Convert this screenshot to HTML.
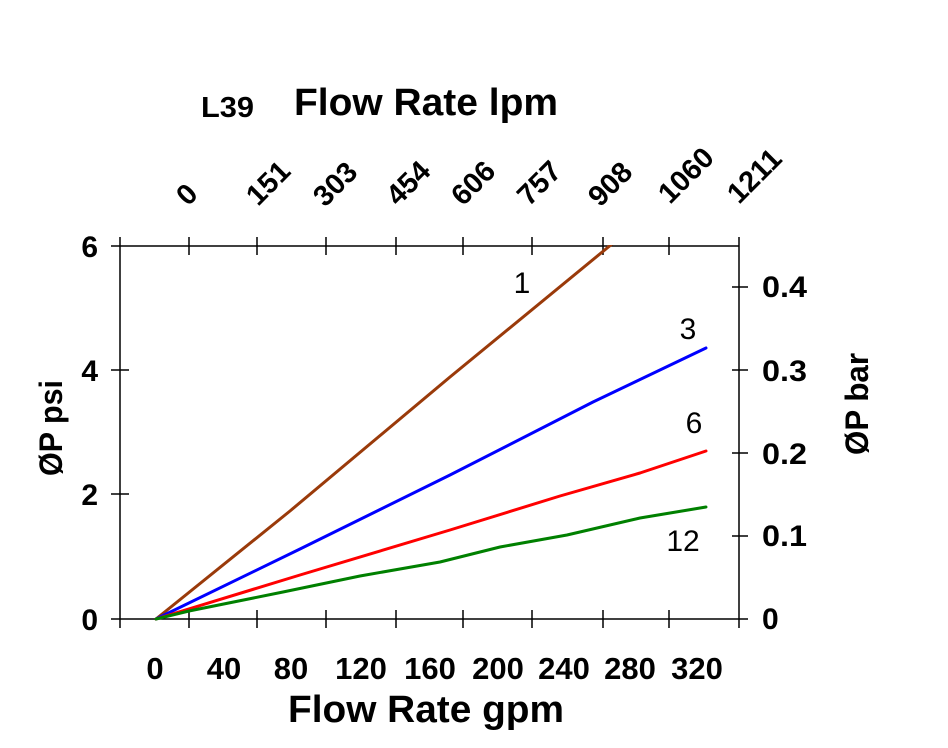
<!DOCTYPE html>
<html>
<head>
<meta charset="utf-8">
<style>
  html, body { margin: 0; padding: 0; background: #ffffff; }
  svg { display: block; }
  text { font-family: "Liberation Sans", Arial, sans-serif; fill: #000; }
  .b { font-weight: bold; }
</style>
</head>
<body>
<svg width="948" height="748" viewBox="0 0 948 748" xmlns="http://www.w3.org/2000/svg">
  <rect x="0" y="0" width="948" height="748" fill="#ffffff"/>

  <!-- Title / top axis title -->
  <text class="b" x="201" y="117" font-size="29" textLength="53" lengthAdjust="spacingAndGlyphs">L39</text>
  <text class="b" x="294" y="115" font-size="38" textLength="264" lengthAdjust="spacingAndGlyphs">Flow Rate lpm</text>

  <!-- Top rotated labels -->
  <g class="b" font-size="29" font-weight="bold">
    <text transform="translate(188,207) rotate(-45)">0</text>
    <text transform="translate(258,207) rotate(-45)">151</text>
    <text transform="translate(325,208) rotate(-45)">303</text>
    <text transform="translate(398,207) rotate(-45)">454</text>
    <text transform="translate(463,207) rotate(-45)">606</text>
    <text transform="translate(529,207) rotate(-45)">757</text>
    <text transform="translate(600,208) rotate(-45)">908</text>
    <text transform="translate(670,205) rotate(-45)">1060</text>
    <text transform="translate(739,205) rotate(-45)">1211</text>
  </g>

  <!-- Axes lines -->
  <g stroke="#000" stroke-width="1.5" fill="none">
    <line x1="111" y1="246" x2="739" y2="246"/>
    <line x1="111" y1="619" x2="748" y2="619"/>
    <line x1="120" y1="237" x2="120" y2="628"/>
    <line x1="739" y1="237" x2="739" y2="628"/>
    <!-- left ticks -->
    <line x1="111" y1="370" x2="129" y2="370"/>
    <line x1="111" y1="494" x2="129" y2="494"/>
    <!-- right ticks -->
    <line x1="732" y1="287" x2="748" y2="287"/>
    <line x1="732" y1="370" x2="748" y2="370"/>
    <line x1="732" y1="453" x2="748" y2="453"/>
    <line x1="732" y1="536" x2="748" y2="536"/>
    <!-- top ticks -->
    <line x1="189" y1="237" x2="189" y2="255"/>
    <line x1="257" y1="237" x2="257" y2="255"/>
    <line x1="326" y1="237" x2="326" y2="255"/>
    <line x1="396" y1="237" x2="396" y2="255"/>
    <line x1="463" y1="237" x2="463" y2="255"/>
    <line x1="532" y1="237" x2="532" y2="255"/>
    <line x1="603" y1="237" x2="603" y2="255"/>
    <line x1="669" y1="237" x2="669" y2="255"/>
    <!-- bottom ticks -->
    <line x1="189" y1="610" x2="189" y2="628"/>
    <line x1="257" y1="610" x2="257" y2="628"/>
    <line x1="326" y1="610" x2="326" y2="628"/>
    <line x1="396" y1="610" x2="396" y2="628"/>
    <line x1="463" y1="610" x2="463" y2="628"/>
    <line x1="532" y1="610" x2="532" y2="628"/>
    <line x1="603" y1="610" x2="603" y2="628"/>
    <line x1="669" y1="610" x2="669" y2="628"/>
  </g>

  <!-- Left tick labels -->
  <g class="b" font-size="30" font-weight="bold" text-anchor="end">
    <text x="98" y="257">6</text>
    <text x="98" y="381">4</text>
    <text x="98" y="505">2</text>
    <text x="98" y="630">0</text>
  </g>

  <!-- Right tick labels -->
  <g class="b" font-size="30" font-weight="bold">
    <text x="762" y="297" textLength="45" lengthAdjust="spacingAndGlyphs">0.4</text>
    <text x="762" y="381" textLength="45" lengthAdjust="spacingAndGlyphs">0.3</text>
    <text x="762" y="464" textLength="45" lengthAdjust="spacingAndGlyphs">0.2</text>
    <text x="762" y="546" textLength="45" lengthAdjust="spacingAndGlyphs">0.1</text>
    <text x="762" y="629">0</text>
  </g>

  <!-- Bottom tick labels -->
  <g class="b" font-size="31" font-weight="bold" text-anchor="middle">
    <text x="155" y="679">0</text>
    <text x="224" y="679">40</text>
    <text x="291" y="679">80</text>
    <text x="361" y="679">120</text>
    <text x="430" y="679">160</text>
    <text x="498" y="679">200</text>
    <text x="564" y="679">240</text>
    <text x="630" y="679">280</text>
    <text x="697" y="679">320</text>
  </g>

  <!-- Bottom axis title -->
  <text class="b" x="288" y="722" font-size="38" textLength="276" lengthAdjust="spacingAndGlyphs">Flow Rate gpm</text>

  <!-- Y axis titles -->
  <text class="b" font-size="32" text-anchor="middle" textLength="96" lengthAdjust="spacingAndGlyphs" transform="translate(62,428) rotate(-90)">ØP psi</text>
  <text class="b" font-size="32" text-anchor="middle" textLength="102" lengthAdjust="spacingAndGlyphs" transform="translate(868,404) rotate(-90)">ØP bar</text>

  <!-- Series -->
  <defs>
    <clipPath id="plot"><rect x="120" y="245" width="619" height="380"/></clipPath>
  </defs>
  <g fill="none" stroke-width="3" stroke-linejoin="round" stroke-linecap="round" clip-path="url(#plot)">
    <polyline stroke="#9a3a0a" points="156,619 290,511 450,377 612,244"/>
    <polyline stroke="#0000ff" points="156,619 300,549 450,475 593,402 706,348"/>
    <polyline stroke="#ff0000" points="156,619 300,575 450,530 560,496 640,473 706,451"/>
    <polyline stroke="#008000" points="156,619 189,611 283,592 360,576 440,562 500,547 567,535 640,518 706,507"/>
  </g>

  <!-- Curve labels -->
  <g font-size="30" text-anchor="middle">
    <text x="522" y="293">1</text>
    <text x="688" y="339">3</text>
    <text x="694" y="433">6</text>
    <text x="683" y="551">12</text>
  </g>
</svg>
</body>
</html>
